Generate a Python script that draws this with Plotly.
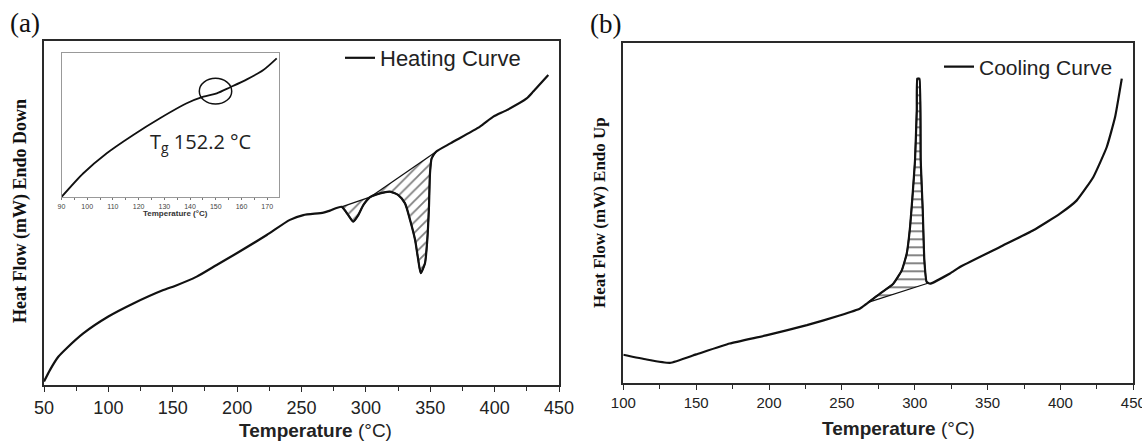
import numpy as np
import plotly.graph_objects as go

# ---------------- data ----------------
# (a) heating curve, temperature (°C) vs heat flow (arbitrary units, endo down)
heat_temp = [50, 54.7, 61.1, 67.6, 80.5, 100, 119.4, 142.7, 151.7, 168.6, 184.1, 199.7,
             223, 241, 251.4, 267, 272.1, 281.2, 286.3, 290.2, 294.1, 298.0, 303.2, 311.0,
             318.7, 325.2, 330.4, 334.3, 338.2, 340.7, 342.6, 345.9, 347.7, 349.0, 349.8,
             351.1, 354.5, 366.0, 388.6, 399.0, 409.4, 424.9, 430.0, 441.7]
heat_flow = [1.0, 4.4, 8.2, 10.7, 15.0, 19.9, 23.7, 27.6, 28.8, 31.5, 34.9, 38.3,
             43.6, 48.0, 49.4, 50.1, 50.7, 51.8, 49.4, 47.5, 49.4, 52.3, 54.6, 55.7,
             56.2, 55.2, 52.8, 48.0, 42.2, 36.3, 32.5, 35.4, 42.2, 51.8, 61.5,
             65.9, 67.8, 70.3, 75.1, 78.0, 79.9, 83.3, 85.3, 90.1]
# baselines of the two hatched endotherms
heat_base1_temp = [281.2, 303.2]
heat_base1_flow = [51.8, 54.6]
heat_base2_temp = [303.2, 354.5]
heat_base2_flow = [54.6, 67.8]

# inset: glass transition region
inset_temp = [90.1, 98.5, 107.6, 117.9, 128.3, 138.7, 145.2, 150.4, 155.6, 162.1, 168.5, 173.7]
inset_flow = [0.2, 16.5, 30.4, 43.1, 54.7, 65.1, 69.7, 72.0, 76.2, 81.7, 88.2, 96.3]
inset_ticks = [90, 100, 110, 120, 130, 140, 150, 160, 170]
tg_label = "T<sub>g</sub> 152.2 °C"

# (b) cooling curve, temperature (°C) vs heat flow (arbitrary units, endo up)
cool_temp = [100, 116, 132, 150, 173, 198, 226, 249, 262.5, 276.2, 285.3, 291.1, 294.5,
             296.8, 298.6, 300.2, 301.4, 301.8, 303.2, 304.1, 305.5, 306.6, 308.2, 310.5,
             324.2, 331, 358.5, 381.4, 399.7, 411.2, 422.6, 431.8, 437.5, 442.1]
cool_flow = [8.4, 7.0, 6.0, 8.5, 11.7, 14.1, 17.1, 20.0, 22.0, 26.4, 29.3, 33.2, 38.1,
             46.0, 55.8, 65.6, 80.3, 89.6, 89.6, 65.6, 50.9, 36.2, 29.8, 29.3,
             32.3, 34.2, 40.1, 45.0, 49.9, 53.8, 60.7, 69.5, 78.3, 89.6]
cool_base_temp = [268.0, 309.5]
cool_base_flow = [23.8, 29.5]

ticks_a = [50, 100, 150, 200, 250, 300, 350, 400, 450]
ticks_b = [100, 150, 200, 250, 300, 350, 400, 450]

# ---------------- helpers ----------------
W, H = 1142, 441
INK = "#111"


def fx(p):
    return p / W


def fy(p):
    return 1 - p / H


def segment(xs, ys, bx, by):
    xs = np.asarray(xs, float)
    ys = np.asarray(ys, float)
    m = (xs > bx[0]) & (xs < bx[1])
    return [bx[0]] + list(xs[m]) + [bx[1]], [by[0]] + list(ys[m]) + [by[1]]


def hatched(fig, xs, ys, bx, by, shape, size, xa, ya, smooth):
    # baseline, then the curve segment filled down to it
    fig.add_trace(go.Scatter(x=bx, y=by, mode="lines", line=dict(color=INK, width=1.3),
                             showlegend=False, hoverinfo="skip", xaxis=xa, yaxis=ya))
    sx, sy = segment(xs, ys, bx, by)
    fig.add_trace(go.Scatter(
        x=sx, y=sy, mode="lines", fill="tonexty",
        fillpattern=dict(shape=shape, size=size, solidity=0.24, fgcolor="#000", bgcolor="white"),
        line=dict(color=INK, width=1.5, shape="spline", smoothing=smooth),
        showlegend=False, hoverinfo="skip", xaxis=xa, yaxis=ya))


fig = go.Figure()

# (a)
hatched(fig, heat_temp, heat_flow, heat_base1_temp, heat_base1_flow, "/", 7.5, "x", "y", 0.6)
hatched(fig, heat_temp, heat_flow, heat_base2_temp, heat_base2_flow, "/", 7.5, "x", "y", 0.6)
fig.add_trace(go.Scatter(
    x=heat_temp, y=heat_flow, mode="lines", name="Heating Curve",
    line=dict(color=INK, width=2.2, shape="spline", smoothing=0.6),
    xaxis="x", yaxis="y", legend="legend"))

# (b)
hatched(fig, cool_temp, cool_flow, cool_base_temp, cool_base_flow, "-", 8, "x2", "y2", 0.4)
fig.add_trace(go.Scatter(
    x=cool_temp, y=cool_flow, mode="lines", name="Cooling Curve",
    line=dict(color=INK, width=2.2, shape="spline", smoothing=0.4),
    xaxis="x2", yaxis="y2", legend="legend2"))

# inset
fig.add_trace(go.Scatter(
    x=inset_temp, y=inset_flow, mode="lines", showlegend=False,
    line=dict(color=INK, width=1.8, shape="spline", smoothing=0.8), xaxis="x3", yaxis="y3"))

frame = dict(showline=True, mirror=True, linecolor="#2a2a2a", linewidth=1.8,
             showgrid=False, zeroline=False, automargin=False)

fig.update_layout(
    width=W, height=H, margin=dict(l=0, r=0, t=0, b=0, pad=0, autoexpand=False),
    paper_bgcolor="white", plot_bgcolor="white",
    font=dict(family="Liberation Sans, Arial, sans-serif", color="#222"),
    xaxis=dict(domain=[fx(44), fx(559)], range=[50, 450], anchor="y",
               tickmode="array", tickvals=ticks_a, ticks="outside", ticklen=5,
               tickcolor="#2a2a2a", tickwidth=1.3, ticklabeloverflow="allow",
               minor=dict(dtick=25, ticks="outside", ticklen=4, tickcolor="#2a2a2a"),
               tickfont=dict(size=18, color="#222"), **frame),
    yaxis=dict(domain=[fy(385), fy(41)], range=[0, 100], anchor="x",
               showticklabels=False, ticks="", **frame),
    xaxis2=dict(domain=[fx(623.3), fx(1133.3)], range=[100, 450], anchor="y2",
                tickmode="array", tickvals=ticks_b, ticks="outside", ticklen=5,
                tickcolor="#2a2a2a", tickwidth=1.3, ticklabeloverflow="allow",
                minor=dict(dtick=25, ticks="outside", ticklen=4, tickcolor="#2a2a2a"),
                tickfont=dict(size=15, color="#222"), **frame),
    yaxis2=dict(domain=[fy(383.3), fy(43.3)], range=[0, 100], anchor="x2",
                showticklabels=False, ticks="", **frame),
    xaxis3=dict(domain=[fx(61.5), fx(278.5)], range=[90, 174.4], anchor="y3",
                tickmode="array", tickvals=inset_ticks, ticks="outside", ticklen=2,
                tickcolor="#777", minor=dict(dtick=5, ticks="outside", ticklen=2, tickcolor="#777"),
                tickfont=dict(size=7, color="#444"), automargin=False,
                showline=True, mirror=True, linecolor="#999", linewidth=1.2,
                showgrid=False, zeroline=False),
    yaxis3=dict(domain=[fy(197), fy(53)], range=[0, 100], anchor="x3",
                showticklabels=False, ticks="", automargin=False,
                showline=True, mirror=True, linecolor="#999", linewidth=1.2,
                showgrid=False, zeroline=False),
    legend=dict(x=fx(340), y=fy(58), xanchor="left", yanchor="middle",
                bgcolor="rgba(0,0,0,0)", font=dict(size=22, color="#222")),
    legend2=dict(x=fx(939), y=fy(67), xanchor="left", yanchor="middle",
                 bgcolor="rgba(0,0,0,0)", font=dict(size=21, color="#222")),
)

# Tg marker circle in the inset
fig.add_shape(type="circle", xref="x3", yref="y3", x0=143.6, x1=156.2, y0=64.6, y1=82.4,
              line=dict(color=INK, width=1.5))


def label(xp, yp, text, size, family=None, angle=0, color="#222"):
    font = dict(size=size, color=color)
    if family:
        font["family"] = family
    return dict(x=fx(xp), y=fy(yp), xref="paper", yref="paper", text=text, showarrow=False,
                xanchor="center", yanchor="middle", textangle=angle, font=font)


SERIF = "Liberation Serif, Times New Roman, serif"
ann = [
    dict(x=123.7, y=38, xref="x3", yref="y3", text=tg_label, showarrow=False,
         xanchor="left", yanchor="middle",
         font=dict(family="Open Sans, sans-serif", size=20, color="#222")),
    label(25, 23, "(a)", 27, SERIF, color=INK),
    label(605, 24, "(b)", 27, SERIF, color=INK),
    label(20, 211, "<b>Heat Flow (mW) Endo Down</b>", 18, SERIF, -90, INK),
    label(599, 213, "<b>Heat Flow (mW) Endo Up</b>", 17, SERIF, -90, INK),
    label(315, 430, "<b>Temperature</b> (°C)", 19),
    label(898, 428, "<b>Temperature</b> (°C)", 19),
    label(175, 213, "<b>Temperature (°C)</b>", 8, color="#333"),
]
fig.update_layout(annotations=ann)

# the page's default 8px body margin would shift the whole figure; remove it
fig.write_html("out.html", config={"displayModeBar": False},
               post_script="document.body.style.margin='0';document.body.style.overflow='hidden';")
